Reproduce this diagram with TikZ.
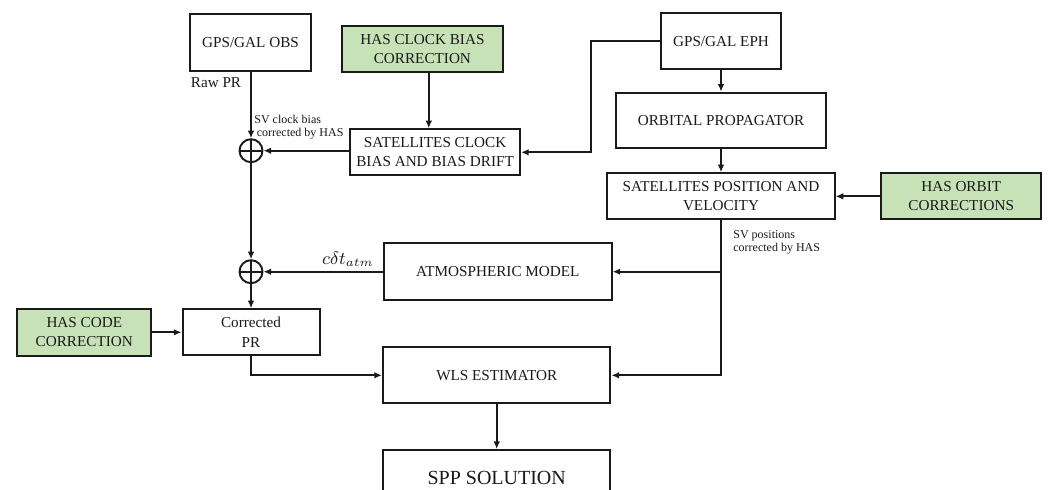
\documentclass[tikz,border=0pt]{standalone}
\usepackage{fontspec}
\setmainfont{Liberation Serif}
\usetikzlibrary{arrows.meta,calc}
\definecolor{hasgreen}{HTML}{C8E2B8}
\definecolor{ink}{HTML}{1A1A1A}
\tikzset{
  box/.style={draw=ink, line width=1pt, fill=white, align=center, inner sep=1pt,
    font=\fontsize{7.6pt}{9.6pt}\selectfont, text=ink},
  hasbox/.style={box, fill=hasgreen},
  arr/.style={draw=ink, line width=0.95pt, -{Latex[length=3.8pt,width=3.3pt]}},
  sumnode/.style={circle, draw=ink, line width=0.95pt, minimum size=11.5pt, inner sep=0pt,
    path picture={\draw[ink, line width=0.95pt] (path picture bounding box.north) -- (path picture bounding box.south)
      (path picture bounding box.west) -- (path picture bounding box.east);}},
  lbl/.style={font=\fontsize{7.6pt}{9pt}\selectfont, text=ink, inner sep=0pt},
  small/.style={font=\fontsize{6pt}{6.6pt}\selectfont, text=ink, inner sep=0pt, align=left}
}
\begin{document}
\begin{tikzpicture}[x=0.5pt, y=-0.5pt]
\useasboundingbox (0,0) rectangle (1048,489);
\clip (0,0) rectangle (1048,489);
\fill[white] (0,0) rectangle (1048,489);

% boxes
\node[box, minimum width=60.25pt, minimum height=28.5pt] (obs) at (250.5,42.5) {GPS/GAL OBS};
\node[hasbox, minimum width=80.4pt, minimum height=23.15pt] (hasclk) at (422.4,48.9) {HAS CLOCK BIAS\\CORRECTION};
\node[box, minimum width=84.9pt, minimum height=23pt] (clk) at (435.1,152.3) {SATELLITES CLOCK\\BIAS AND BIAS DRIFT};
\node[box, minimum width=60.3pt, minimum height=27.85pt] (eph) at (721,41.2) {GPS/GAL EPH};
\node[box, minimum width=105pt, minimum height=27.8pt] (orb) at (721,120.5) {ORBITAL PROPAGATOR};
\node[box, minimum width=113.65pt, minimum height=23pt] (satpos) at (721,196.3) {SATELLITES POSITION AND\\VELOCITY};
\node[hasbox, minimum width=80pt, minimum height=23pt] (hasorb) at (961.2,196.3) {HAS ORBIT\\CORRECTIONS};
\node[box, minimum width=113.8pt, minimum height=28.35pt] (atm) at (497.8,271.7) {ATMOSPHERIC MODEL};
\node[hasbox, minimum width=67.15pt, minimum height=23.35pt] (hascode) at (84.3,332.3) {HAS CODE\\CORRECTION};
\node[box, minimum width=68.5pt, minimum height=23pt] (pr) at (251,332.3) {Corrected\\PR};
\node[box, minimum width=113.75pt, minimum height=28pt] (wls) at (496.7,375.3) {WLS ESTIMATOR};
\node[box, minimum width=113.5pt, minimum height=28pt, font=\fontsize{10pt}{12pt}\selectfont] (spp) at (496.7,478) {SPP SOLUTION};

% summing junctions
\node[sumnode] (sum1) at (251,150.7) {};
\node[sumnode] (sum2) at (251,271.7) {};

% labels
\node[lbl] (rawpr) at (216,83) {Raw PR};
\node[small, anchor=west] (svclk) at (254,127) {SV clock bias\\\hspace{1.2pt}corrected by HAS};
\node[small, anchor=west] (svpos) at (733,242.5) {SV positions\\corrected by HAS};
\node[inner sep=0pt, text=ink, font=\fontsize{8.6pt}{10pt}\selectfont] (cdt) at (348,259) {$c\delta t_{atm}$};

% connectors
\coordinate (ephbend) at (590.7,152.3);
\coordinate (atmj) at (satpos.south |- atm.east);
\coordinate (wlsj) at (satpos.south |- wls.east);

\draw[arr] (obs.south -| sum1.north) -- (sum1.north);
\draw[arr] ([xshift=3.2pt]hasclk.south) -- ([xshift=3.2pt]hasclk.south |- clk.north);
\draw[arr] (clk.west |- sum1.east) -- (sum1.east);
\draw[arr] (eph.west) -| (ephbend) -- (clk.east);
\draw[arr] (eph.south) -- (orb.north);
\draw[arr] (orb.south) -- (satpos.north);
\draw[arr] (hasorb.west) -- (satpos.east);
\draw[arr] (satpos.south) -- (wlsj) -- (wls.east);
\draw[arr] (atmj) -- (atm.east);
\draw[arr] (atm.west) -- (sum2.east);
\draw[arr] (sum1.south) -- (sum2.north);
\draw[arr] (sum2.south) -- (pr.north);
\draw[arr] (hascode.east) -- (pr.west);
\draw[arr] (pr.south) |- (wls.west);
\draw[arr] (wls.south) -- (spp.north);
\end{tikzpicture}
\end{document}
